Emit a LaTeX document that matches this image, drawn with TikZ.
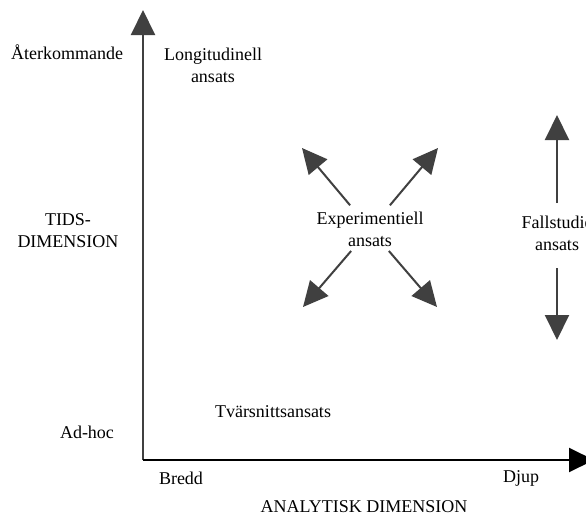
\documentclass[tikz,border=0pt]{standalone}
\usepackage{fontspec}
\setmainfont{Liberation Serif}
\usetikzlibrary{arrows.meta, positioning}

\definecolor{axisgray}{HTML}{404040}

\begin{document}
\begin{tikzpicture}[
    x=1pt, y=-1pt,
    lbl/.style={align=center, inner sep=0pt, font=\fontsize{18}{22}\selectfont},
    arr/.style={-{Triangle[length=25pt, width=24pt]}, line width=2pt, draw=axisgray, fill=axisgray},
    axisarr/.style={-{Triangle[length=25pt, width=24pt]}, line width=2pt, draw=black}
]
    \useasboundingbox (0,0) rectangle (586,517);

    % Axes
    \coordinate (origin) at (143,460);
    \coordinate (ytop) at (143,10);
    \coordinate (xend) at (594,460);
    \draw[arr] (origin) -- (ytop);
    \draw[axisarr] (origin) -- (xend);

    % Time dimension labels
    \node[lbl] (aterk) at (67,52) {Återkommande};
    \node[lbl] (tids) at (68,231) {TIDS-\\DIMENSION};
    \node[lbl] (adhoc) at (87,432) {Ad-hoc};

    % Analytic dimension labels
    \node[lbl] (bredd) at (181,478) {Bredd};
    \node[lbl] (djup) at (521,478) {Djup};
    \node[lbl] (analys) at (364,507) {ANALYTISK DIMENSION};

    % Approaches
    \node[lbl] (longit) at (213,65) {Longitudinell\\ansats};
    \node[lbl] (tvars) at (273,412) {Tvärsnittsansats};

    % Experimentiell ansats with four arrows
    \node[lbl] (exper) at (370,229) {Experimentiell\\ansats};
    \coordinate (ul) at (302,148);
    \coordinate (ur) at (438,148);
    \coordinate (dl) at (303,307);
    \coordinate (dr) at (437,307);
    \draw[arr, shorten <=31pt] (exper.center) -- (ul);
    \draw[arr, shorten <=31pt] (exper.center) -- (ur);
    \draw[arr, shorten <=29pt] (exper.center) -- (dl);
    \draw[arr, shorten <=29pt] (exper.center) -- (dr);

    % Fallstudie ansats with up and down arrows
    \node[lbl] (fall) at (557,233) {Fallstudie\\ansats};
    \coordinate (fup) at (557,115);
    \coordinate (fdown) at (557,340);
    \draw[arr, shorten <=30pt] (fall.center) -- (fup);
    \draw[arr, shorten <=35pt] (fall.center) -- (fdown);
\end{tikzpicture}
\end{document}
